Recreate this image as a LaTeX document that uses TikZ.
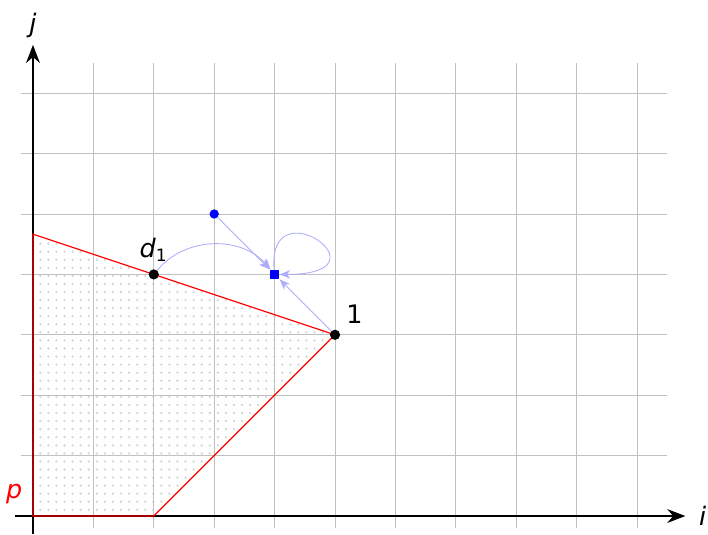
\documentclass[tikz,border=0pt]{standalone}
\usepackage{fontspec}
\setmainfont{DejaVu Sans}
\usetikzlibrary{arrows.meta,patterns.meta,positioning}
\definecolor{gridgray}{RGB}{192,192,192}
\definecolor{dotgray}{RGB}{212,212,212}
\definecolor{flowblue}{RGB}{172,172,250}
\tikzset{
  pt/.style={circle,fill=black,inner sep=0pt,minimum size=4.8pt},
  flow/.style={flowblue,-{Stealth[length=5pt,width=4pt]}},
}

\begin{document}
\begin{tikzpicture}[font=\large,>={Stealth[length=8.5pt,width=6.5pt]}]
  \useasboundingbox (-0.546,-0.298) rectangle (11.175,8.543);
  % feasible region
  \fill[pattern={Dots[distance=3.8pt,radius=0.6pt]},pattern color=dotgray]
     (0,0) -- (0,14/3) -- (5,3) -- (2,0) -- cycle;
  \draw[gridgray,thin] (-0.2,-0.2) grid (10.5,7.5);
  % axes
  \coordinate (xend) at (10.8,0);
  \coordinate (yend) at (0,7.8);
  \draw[->,thick] (-0.3,0) -- (xend);
  \draw[->,thick] (0,-0.3) -- (yend);
  \node[right=3pt of xend] (ilabel) {\textit{i}};
  \node[above=0pt of yend] (jlabel) {\textit{j}};
  % polytope
  \draw[red,line width=0.55pt] (0,0) -- (0,14/3) -- (5,3) -- (2,0) -- cycle;
  \node[red] (plabel) at (-0.31,0.37) {\textit{p}};
  % points
  \node[pt] (d1) at (2,4) {};
  \node[pt] (one) at (5,3) {};
  \node[above=0pt of d1] (d1label) {\textit{d}\textsubscript{1}};
  \node[above right=0pt and 0pt of one] (onelabel) {1};
  \node[circle,fill=blue,inner sep=0pt,minimum size=4.4pt] (src) at (3,5) {};
  \node[fill=blue,inner sep=0pt,minimum size=4.4pt] (tgt) at (4,4) {};
  % moves
  \draw[flow] (src) -- (tgt);
  \draw[flow] (one) -- (tgt);
  \draw[flow] (d1) to[bend left=50] (tgt);
  \draw[flow] (tgt) to[out=95,in=0,out distance=1.4cm,in distance=1.9cm] (tgt);
\end{tikzpicture}
\end{document}
